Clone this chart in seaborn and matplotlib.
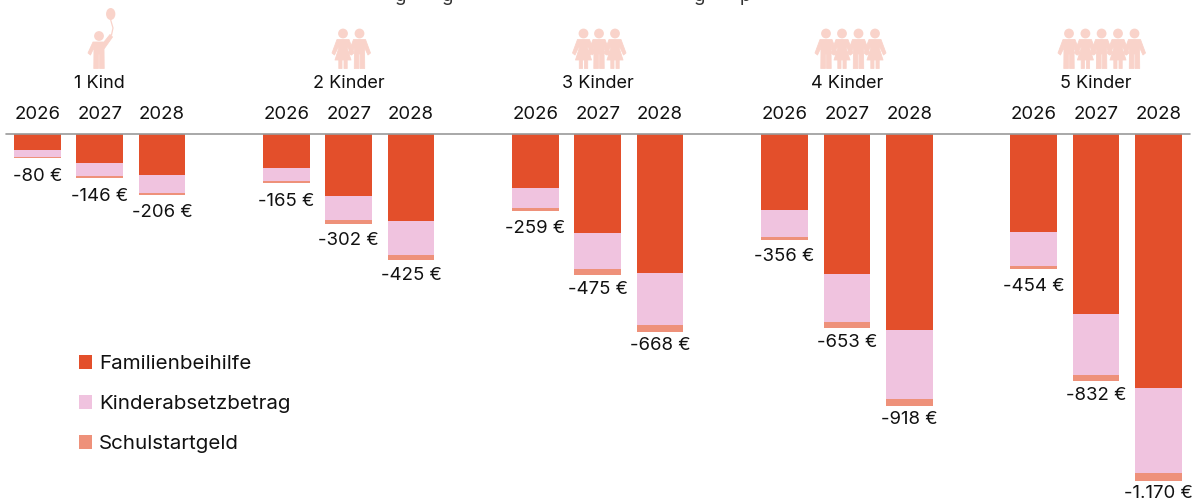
import numpy as np
import pandas as pd
import seaborn as sns
import matplotlib.pyplot as plt
from matplotlib.patches import Circle, Ellipse, Polygon

groups = ["1 Kind", "2 Kinder", "3 Kinder", "4 Kinder", "5 Kinder"]
years = ["2026", "2027", "2028"]
familienbeihilfe = [53, 98, 138, 112, 207, 292, 182, 334, 469, 256, 470, 662, 330, 608, 856]
kinderabsetzbetrag = [23, 41, 59, 45, 82, 115, 65, 122, 174, 89, 165, 231, 113, 205, 288]
schulstartgeld = [4, 7, 9, 8, 13, 18, 12, 19, 25, 11, 18, 25, 11, 19, 26]
total_labels = ["-80 €", "-146 €", "-206 €", "-165 €", "-302 €", "-425 €", "-259 €", "-475 €",
                "-668 €", "-356 €", "-653 €", "-918 €", "-454 €", "-832 €", "-1.170 €"]

RED = '#E34F2B'
PINK = '#F0C3DF'
SALMON = '#EE917A'
ICON = '#F9D3CA'
W, H = 1196, 503

sns.set_theme(style='white')
plt.rcParams['font.family'] = ['Inter', 'DejaVu Sans']

slots = []
for g in groups:
    slots += [g + " " + y for y in years]
    slots.append("gap " + g)
slots = slots[:-1]

df = pd.DataFrame({
    "slot": [g + " " + y for g in groups for y in years],
    "fam": familienbeihilfe,
    "kind": kinderabsetzbetrag,
    "schul": schulstartgeld,
})
df["upto_fam"] = -df["fam"]
df["upto_kind"] = -(df["fam"] + df["kind"])
df["upto_schul"] = -(df["fam"] + df["kind"] + df["schul"])

fig = plt.figure(figsize=(W / 100, H / 100), dpi=100)
ax = fig.add_axes([0, 0, 1, 1])

# longest first, the shorter ones are drawn over it
sns.barplot(data=df, x="slot", y="upto_schul", order=slots, color=SALMON, saturation=1, linewidth=0,
            width=0.75, errorbar=None, label="Schulstartgeld", ax=ax)
sns.barplot(data=df, x="slot", y="upto_kind", order=slots, color=PINK, saturation=1, linewidth=0,
            width=0.75, errorbar=None, label="Kinderabsetzbetrag", ax=ax)
sns.barplot(data=df, x="slot", y="upto_fam", order=slots, color=RED, saturation=1, linewidth=0,
            width=0.75, errorbar=None, label="Familienbeihilfe", ax=ax)

# bar 0 sits at 37.5 px, one slot is 62.27 px
ax.set_xlim(-37.4 / 62.27, (W - 37.4) / 62.27)
ax.set_ylim(-(H - 134.5) / 0.2959, 134.5 / 0.2959)
ax.axis('off')
ax.axhline(0, xmin=6 / W, xmax=1190 / W, color='#9A9A9A', lw=1.2, zorder=5)

# gap between bar end and centre of the label, in px
label_gap = [18.5, 18.5, 17.2, 18.5, 16.5, 15, 17.5, 14.5, 13, 16.8, 14.5, 13.2, 17.2, 15, 12.5]
FS = 13.4
for k, g in enumerate(groups):
    ax.annotate(g, (k * 4 + 1, 0), xytext=(0, (134.5 - 84) * 0.72), textcoords='offset points',
                ha='center', va='center', fontsize=13, color='#111111')
    for j, y in enumerate(years):
        ax.annotate(y, (k * 4 + j, 0), xytext=(0, (134.5 - 115) * 0.72), textcoords='offset points',
                    ha='center', va='center', fontsize=FS, color='#111111')
        n = k * 3 + j
        ax.annotate(total_labels[n], (k * 4 + j, df["upto_schul"][n]),
                    xytext=(0, -label_gap[n] * 0.72), textcoords='offset points',
                    ha='center', va='center', fontsize=FS, color='#111111')

handles, labels = ax.get_legend_handles_labels()
leg = ax.legend(handles[::-1], labels[::-1], loc='upper left', bbox_to_anchor=(60 / W, 1 - 336 / H),
                frameon=False, fontsize=14.8, handlelength=0.68, handleheight=0.68, handletextpad=0.32,
                labelspacing=1.07, labelcolor='#111111')

# pictograms, pixel coordinates
ov = fig.add_axes([0, 0, 1, 1])
ov.set_xlim(0, W)
ov.set_ylim(H, 0)
ov.axis('off')
ov.patch.set_alpha(0)


def drawKid(cx, girl=False, raised=False):
    dy = 2.5 if raised else 0
    ov.add_patch(Circle((cx, 33.5 + dy), 4.9, color=ICON, lw=0))
    top = 39.5 + dy
    left_arm = [(-6, top), (-11, 53), (-8.5, 55), (-5, 47.5)]
    right_arm = [(5, 47.5), (8.5, 55), (11, 53), (6, top)]
    if raised:
        right_arm = [(5, 49), (13.5, 37), (11, 34.5), (5, top)]
    if girl:
        body = [(-4, 47.5), (-8, 60), (-4.2, 60), (-4.2, 68.5), (-1, 68.5), (-1, 60), (1, 60),
                (1, 68.5), (4.2, 68.5), (4.2, 60), (8, 60), (4, 47.5)]
    else:
        body = [(-5.2, 68.5), (-0.6, 68.5), (-0.6, 54), (0.6, 54), (0.6, 68.5), (5.2, 68.5)]
    pts = left_arm + body + right_arm
    ov.add_patch(Polygon([(cx + a, b) for a, b in pts], closed=True, facecolor=ICON, edgecolor=ICON,
                         lw=0.6, joinstyle='round'))


drawKid(99, raised=True)
ov.add_patch(Ellipse((110.7, 14), 9.3, 12, color=ICON, lw=0))
ov.plot([110.7, 113, 111.5], [20, 28, 35], color=ICON, lw=0.9)
for x, girl in [(343, True), (359.5, False),
                (583.5, True), (599, False), (615, True),
                (826, False), (842, True), (858.5, False), (875, True),
                (1069, False), (1085.4, True), (1101.6, False), (1118, True), (1134.5, False)]:
    drawKid(x, girl=girl)

# the title is cut off by the top edge, only its descenders stay visible
for x, c in [(401, 'g'), (448, 'g'), (700, 'g'), (745, 'p')]:
    ov.text(x, 1, c, ha='center', va='baseline', fontsize=FS, color='#333333', clip_on=False)

plt.savefig('out.png', dpi=100)
